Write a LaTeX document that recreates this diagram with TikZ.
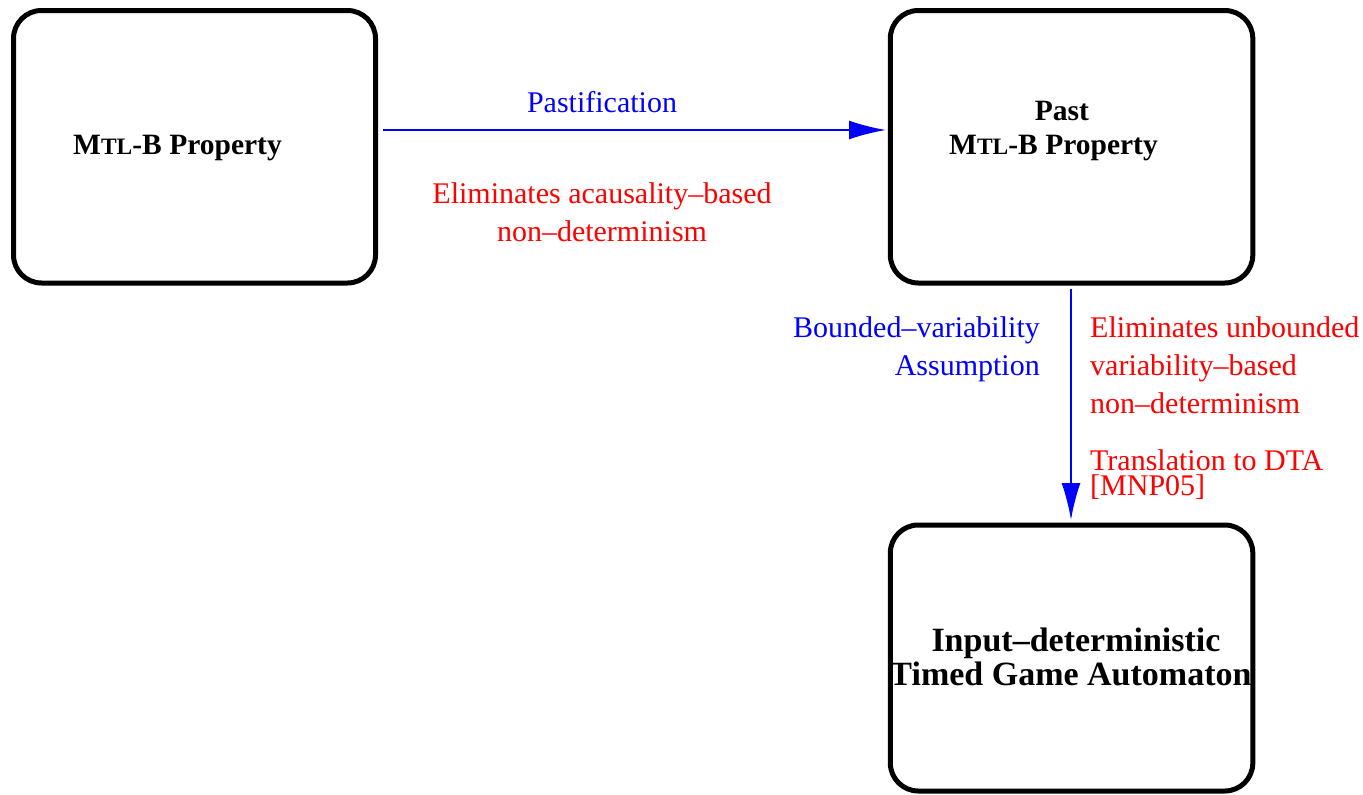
\documentclass[tikz,border=0pt]{standalone}
\usepackage{fontspec}
\setmainfont{Liberation Serif}
\usetikzlibrary{arrows.meta}
\definecolor{lblblue}{RGB}{0,0,255}
\definecolor{lblred}{RGB}{255,0,0}
% small-capital "TL" of the logic's name
\newcommand{\mtlname}[1]{M{\fontsize{#1}{#1}\selectfont TL}-B}
\begin{document}
\begin{tikzpicture}[x=1pt,y=-1pt,
  statebox/.style={draw=black,line width=5pt,rounded corners=28pt},
  flow/.style={draw=lblblue,line width=2pt,-{Latex[length=37pt,width=19pt]}},
  boxtext/.style={font=\bfseries\fontsize{29.5}{34}\selectfont,inner sep=0pt,anchor=base},
  bluetext/.style={text=lblblue,font=\fontsize{30}{38}\selectfont,inner sep=0pt},
  redtext/.style={text=lblred,font=\fontsize{30}{38}\selectfont,inner sep=0pt}]
\useasboundingbox (0,0) rectangle (1363,795);

% states
\draw[statebox] (13.5,10.5) rectangle (375.5,283) coordinate[pos=0.5] (mtl);
\draw[statebox] (890.3,10.5) rectangle (1252.8,283) coordinate[pos=0.5] (past);
\draw[statebox] (890.3,525) rectangle (1252.8,791) coordinate[pos=0.5] (tga);

\node[boxtext] (mtltxt) at (177.5,154) {\mtlname{23.5}\ Property};
\node[boxtext] (pasttxt1) at (1062,120) {Past};
\node[boxtext] (pasttxt2) at (1053.5,154) {\mtlname{23.5}\ Property};
\node[boxtext,font=\bfseries\fontsize{34}{34}\selectfont] (tgatxt1) at (1076,651.5) {Input--deterministic};
\node[boxtext,font=\bfseries\fontsize{34}{34}\selectfont] (tgatxt2) at (1070.5,685) {Timed Game Automaton};

% transformations
\coordinate (hstart) at (383,130);
\coordinate (hend) at (886,130);
\coordinate (vstart) at (1071,289);
\coordinate (vend) at (1071,520);
\draw[flow] (hstart) -- (hend);
\draw[flow] (vstart) -- (vend);

% labels of the horizontal step (multi-line nodes sit on their last baseline)
\node[bluetext,anchor=base] (pastif) at (602,112) {Pastification};
\node[redtext,anchor=base,align=center] (acaus) at (602,241) {Eliminates acausality--based\\non--determinism};

% labels of the vertical step
\node[bluetext,anchor=base east,align=right] (bv) at (1040,375) {Bounded--variability\\Assumption};
\node[redtext,anchor=base west,align=left] (unb) at (1090,413) {Eliminates unbounded\\variability--based\\non--determinism};
\node[redtext,anchor=base west,align=left,font=\fontsize{30}{25}\selectfont] (dta) at (1090,495) {Translation to DTA\\{[MNP05]}};
\end{tikzpicture}
\end{document}
